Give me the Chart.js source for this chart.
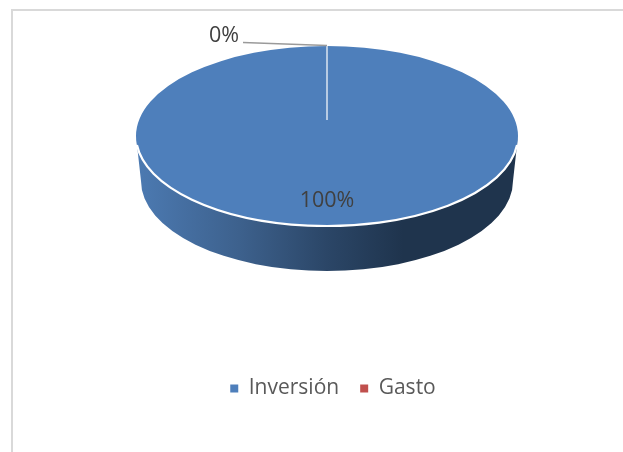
<!DOCTYPE html>
<html>
<head>
<meta charset="utf-8">
<script src="https://cdn.jsdelivr.net/npm/chart.js@4"></script>
<style>
  html, body { margin: 0; padding: 0; background: #fff; overflow: hidden; }
  #wrap { position: relative; width: 623px; height: 452px; }
  #wrap canvas { position: absolute; left: 0; top: 0; }
  /* marco del grafico: solo arriba y a la izquierda */
  #marco { position: absolute; left: 11px; top: 9px; right: 0; bottom: 0;
           border-top: 2px solid #d9d9d9; border-left: 2px solid #d9d9d9; }
</style>
</head>
<body>
<div id="wrap">
  <div id="marco"></div>
  <canvas id="chart_pie" width="623" height="452"></canvas>
</div>
<script>
const categorias = ['Inversión', 'Gasto'];
const valores = [100, 0];
const colores = ['#4e7fbb', '#c0504d'];

const FUENTE = '"Open Sans", sans-serif';

// perspectiva del pastel: aplasta el circulo y le da grosor
const pastel3d = {
  id: 'pastel3d',
  centroX: 327,
  centroY: 136,
  achatado: 90 / 191,
  grosor: 45,
  encogeBase: 5,

  beforeDatasetDraw(chart) {
    const ctx = chart.ctx;
    const arco = chart.getDatasetMeta(0).data[0];
    const cx = this.centroX;
    const r = arco.outerRadius;
    const ry = r * this.achatado;

    // pared lateral
    const grad = ctx.createLinearGradient(cx - r, 0, cx + r, 0);
    grad.addColorStop(0, '#4c7ab2');
    grad.addColorStop(0.27, '#3d618d');
    grad.addColorStop(0.5, '#2b4667');
    grad.addColorStop(0.7, '#1f344d');
    grad.addColorStop(1, '#1f344d');

    ctx.save();
    ctx.beginPath();
    ctx.ellipse(cx, this.centroY, r, ry, 0, 0, Math.PI);
    ctx.lineTo(cx - r + this.encogeBase, this.centroY + this.grosor);
    ctx.ellipse(cx, this.centroY + this.grosor, r - this.encogeBase, ry, 0, Math.PI, 0, true);
    ctx.closePath();
    ctx.fillStyle = grad;
    ctx.fill();
    ctx.restore();

    // la cara superior se dibuja con la escala de la perspectiva
    ctx.save();
    ctx.translate(cx, this.centroY);
    ctx.scale(1, this.achatado);
    ctx.translate(-arco.x, -arco.y);
  },

  afterDatasetDraw(chart) {
    const ctx = chart.ctx;
    ctx.restore();

    const arco = chart.getDatasetMeta(0).data[0];
    const cx = this.centroX;
    const r = arco.outerRadius;
    const ry = r * this.achatado;
    const arriba = this.centroY - ry;

    // borde blanco entre la cara y la pared
    ctx.save();
    ctx.beginPath();
    ctx.ellipse(cx, this.centroY, r, ry, 0, 0.1, Math.PI - 0.1);
    ctx.strokeStyle = '#ffffff';
    ctx.lineWidth = 2.2;
    ctx.stroke();

    // separacion de las dos porciones
    ctx.beginPath();
    ctx.moveTo(cx, arriba);
    ctx.lineTo(cx, 120);
    ctx.strokeStyle = '#dbe5f1';
    ctx.lineWidth = 1.5;
    ctx.stroke();

    // linea guia de la etiqueta del 0%
    ctx.beginPath();
    ctx.moveTo(243, 42.5);
    ctx.lineTo(cx, arriba - 0.5);
    ctx.strokeStyle = '#9a9a9a';
    ctx.lineWidth = 1.6;
    ctx.stroke();

    // etiquetas de porcentaje
    const total = valores.reduce((a, b) => a + b, 0);
    ctx.fillStyle = '#404040';
    ctx.font = '21.5px ' + FUENTE;
    ctx.textAlign = 'center';
    ctx.textBaseline = 'middle';
    ctx.fillText(Math.round(valores[0] / total * 100) + '%', cx, 201);
    ctx.fillText(Math.round(valores[1] / total * 100) + '%', 224, 36);
    ctx.restore();
  }
};

new Chart(document.getElementById('chart_pie'), {
  type: 'pie',
  data: {
    labels: categorias,
    datasets: [{
      data: valores,
      backgroundColor: colores,
      borderWidth: 0,
      radius: 191
    }]
  },
  options: {
    responsive: false,
    animation: false,
    layout: { padding: { left: 43, bottom: 43 } },
    plugins: {
      tooltip: { enabled: false },
      legend: {
        position: 'bottom',
        labels: {
          usePointStyle: true,
          pointStyle: 'rect',
          boxWidth: 8,
          boxHeight: 8,
          padding: 21,
          color: '#595959',
          font: { family: FUENTE, size: 21 }
        }
      }
    }
  },
  plugins: [pastel3d]
});
</script>
</body>
</html>
